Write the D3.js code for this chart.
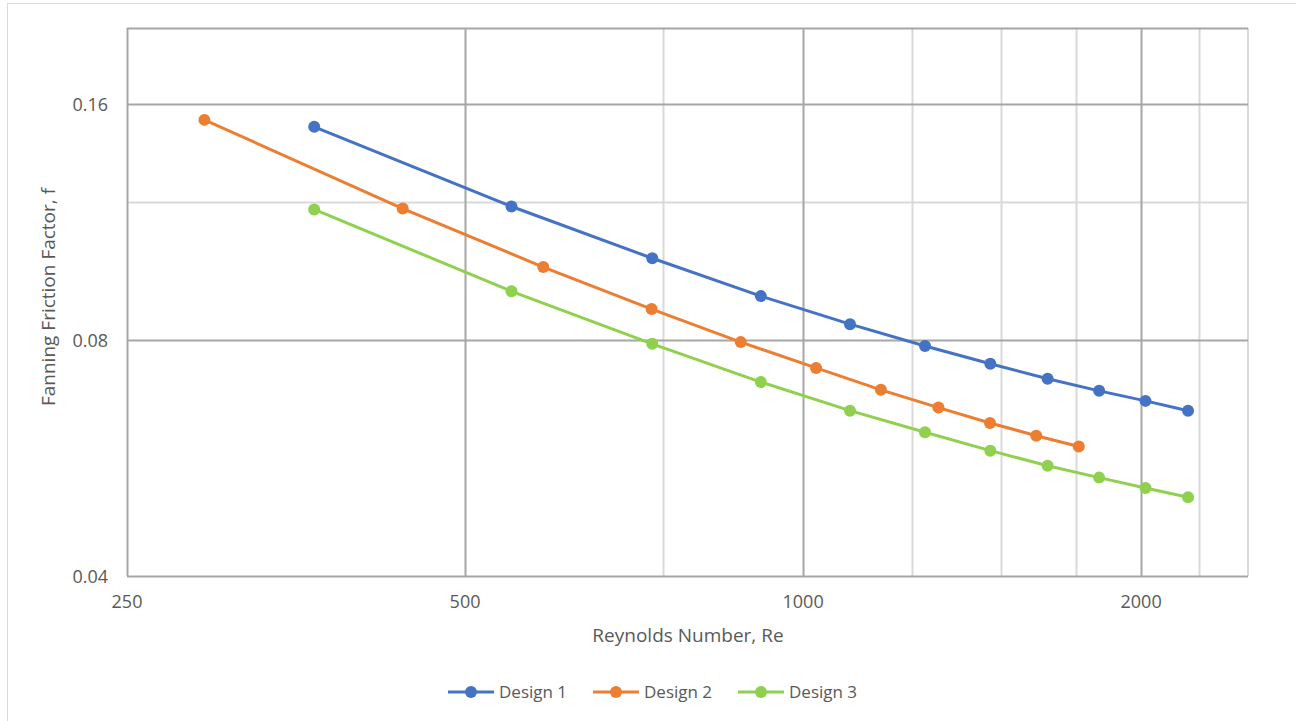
<!DOCTYPE html>
<html>
<head>
<meta charset="utf-8">
<script src="https://cdn.jsdelivr.net/npm/d3@7"></script>
<style>
  body { margin: 0; background: #fff; }
  text { font-family: "Open Sans", "Noto Sans", sans-serif; fill: #595959; }
</style>
</head>
<body>
<div id="chart"></div>
<script>
var seriesNames = ['Design 1', 'Design 2', 'Design 3'],
    colors = ['#4472c4', '#ed7d31', '#8fd14f'];

var re1 = [367, 550, 734, 917, 1101, 1284, 1468, 1651, 1835, 2018, 2202],
    f1 = [0.1496, 0.1184, 0.1017, 0.0910, 0.0838, 0.0786, 0.0746, 0.0714, 0.0689, 0.0669, 0.0650];
var re2 = [293, 440, 587, 733, 880, 1027, 1173, 1320, 1467, 1613, 1760],
    f2 = [0.1527, 0.1177, 0.0991, 0.0876, 0.0795, 0.0737, 0.0691, 0.0656, 0.0627, 0.0604, 0.0585];
var re3 = [367, 550, 734, 917, 1101, 1284, 1468, 1651, 1835, 2018, 2202],
    f3 = [0.1174, 0.0923, 0.0791, 0.0707, 0.0650, 0.0610, 0.0578, 0.0553, 0.0534, 0.0518, 0.0504];

var xTicks = [250, 500, 1000, 2000],
    xMinorTicks = [750, 1250, 1500, 1750, 2250],
    yTicks = [0.04, 0.08, 0.16],
    yMinorTicks = [0.12];

var width = 1296, height = 721,
    margin = { top: 28, right: 48, bottom: 145, left: 127 };

var svg = d3.select('#chart').append('svg')
    .attr('width', width)
    .attr('height', height);

// outer chart border
svg.append('rect')
    .attr('x', 7.5).attr('y', 3.5)
    .attr('width', 1300).attr('height', 730)
    .attr('fill', 'none')
    .attr('stroke', '#d9d9d9');

var x = d3.scaleLog().base(2)
    .domain([250, 2490])
    .range([margin.left, width - margin.right]);

var y = d3.scaleLog().base(2)
    .domain([0.04, 0.2])
    .range([height - margin.bottom, margin.top]);

var g = svg.append('g');

// minor gridlines
g.selectAll('.xminor').data(xMinorTicks).enter().append('line')
    .attr('x1', function (d) { return Math.round(x(d)) + 0.5; })
    .attr('x2', function (d) { return Math.round(x(d)) + 0.5; })
    .attr('y1', y.range()[0]).attr('y2', y.range()[1])
    .attr('stroke', '#d9d9d9').attr('stroke-width', 2);

g.selectAll('.yminor').data(yMinorTicks).enter().append('line')
    .attr('y1', function (d) { return Math.round(y(d)) + 0.5; })
    .attr('y2', function (d) { return Math.round(y(d)) + 0.5; })
    .attr('x1', x.range()[0]).attr('x2', x.range()[1])
    .attr('stroke', '#d9d9d9').attr('stroke-width', 2);

// right edge
g.append('line')
    .attr('x1', x.range()[1]).attr('x2', x.range()[1])
    .attr('y1', y.range()[0]).attr('y2', y.range()[1])
    .attr('stroke', '#d9d9d9').attr('stroke-width', 2);

// major gridlines
g.selectAll('.xmajor').data(xTicks).enter().append('line')
    .attr('x1', function (d) { return Math.round(x(d)) + 0.5; })
    .attr('x2', function (d) { return Math.round(x(d)) + 0.5; })
    .attr('y1', y.range()[0]).attr('y2', y.range()[1])
    .attr('stroke', '#a6a6a6').attr('stroke-width', 2);

g.selectAll('.ymajor').data(yTicks.concat([0.2])).enter().append('line')
    .attr('y1', function (d) { return Math.round(y(d)) + 0.5; })
    .attr('y2', function (d) { return Math.round(y(d)) + 0.5; })
    .attr('x1', x.range()[0]).attr('x2', x.range()[1])
    .attr('stroke', '#a6a6a6').attr('stroke-width', 2);

// tick labels
g.selectAll('.xlab').data(xTicks).enter().append('text')
    .attr('x', function (d) { return x(d); })
    .attr('y', 608)
    .attr('text-anchor', 'middle')
    .attr('font-size', 18)
    .text(function (d) { return d; });

g.selectAll('.ylab').data(yTicks).enter().append('text')
    .attr('x', 108)
    .attr('y', function (d) { return y(d) + 7; })
    .attr('text-anchor', 'end')
    .attr('font-size', 18)
    .text(function (d) { return d; });

// axis titles
svg.append('text')
    .attr('x', 688)
    .attr('y', 642)
    .attr('text-anchor', 'middle')
    .attr('font-size', 19)
    .text('Reynolds Number, Re');

svg.append('text')
    .attr('transform', 'translate(55,297) rotate(-90)')
    .attr('text-anchor', 'middle')
    .attr('font-size', 19)
    .text('Fanning Friction Factor, f');

// series
var series = [
    d3.zip(re1, f1),
    d3.zip(re2, f2),
    d3.zip(re3, f3)
];

var line = d3.line()
    .x(function (d) { return x(d[0]); })
    .y(function (d) { return y(d[1]); });

series.forEach(function (pts, i) {
    var sg = g.append('g');
    sg.append('path')
        .attr('d', line(pts))
        .attr('fill', 'none')
        .attr('stroke', colors[i])
        .attr('stroke-width', 3);
    sg.selectAll('circle').data(pts).enter().append('circle')
        .attr('cx', function (d) { return x(d[0]); })
        .attr('cy', function (d) { return y(d[1]); })
        .attr('r', 6)
        .attr('fill', colors[i]);
});

// legend
var legendX = [448, 593, 738];
var legend = svg.append('g').attr('transform', 'translate(0,692)');
seriesNames.forEach(function (name, i) {
    var lg = legend.append('g').attr('transform', 'translate(' + legendX[i] + ',0)');
    lg.append('line')
        .attr('x1', 0).attr('x2', 46)
        .attr('stroke', colors[i]).attr('stroke-width', 3);
    lg.append('circle')
        .attr('cx', 23).attr('r', 6)
        .attr('fill', colors[i]);
    lg.append('text')
        .attr('x', 51).attr('y', 6)
        .attr('font-size', 17)
        .text(name);
});
</script>
</body>
</html>
